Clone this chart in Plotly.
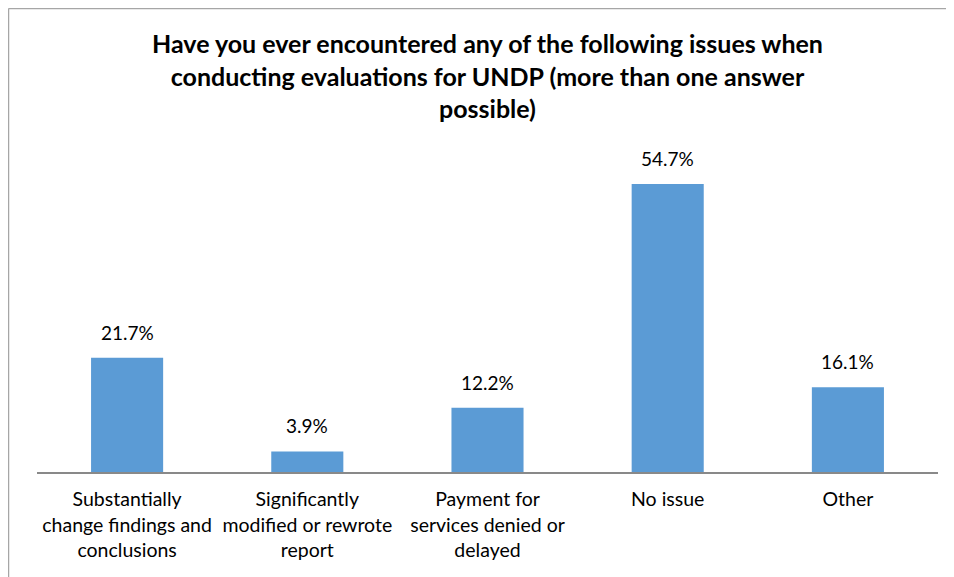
import plotly.graph_objects as go

categories = [
    "Substantially<br>change findings and<br>conclusions",
    "Significantly<br>modified or rewrote<br>report",
    "Payment for<br>services denied or<br>delayed",
    "No issue",
    "Other",
]
values = [21.7, 3.9, 12.2, 54.7, 16.1]
labels = ["21.7%", "3.9%", "12.2%", "54.7%", "16.1%"]

W, H = 954, 577
OFF = 8  # page body offset
ml, mr, mt, mb = 37 - OFF, 24, 156 - OFF, 113
pw, ph = W - ml - mr, H - mt - mb

FONT = "Lato, sans-serif"

fig = go.Figure(go.Bar(
    x=categories, y=values,
    marker=dict(color="#5B9BD5", line=dict(width=0)),
    width=0.4,
))

for c, v, t in zip(categories, values, labels):
    fig.add_annotation(x=c, y=v, text=t, showarrow=False, yanchor="bottom",
                       yshift=12, font=dict(family=FONT, size=19, color="#000000"))

fig.update_layout(
    width=W, height=H,
    margin=dict(l=ml, r=mr, t=mt, b=mb),
    paper_bgcolor="white", plot_bgcolor="white",
    showlegend=False,
    title=dict(
        text="<b>Have you ever encountered any of the following issues when<br>conducting evaluations for UNDP (more than one answer<br>possible)</b>",
        x=(ml + pw / 2) / W, xanchor="center", y=1 - 45 / H, yanchor="top",
        font=dict(family=FONT, size=25, color="#000000"),
    ),
    xaxis=dict(
        showline=True, linecolor="#898989", linewidth=1.5,
        ticks="", showgrid=False, ticklabelstandoff=9,
        tickfont=dict(family=FONT, size=19.5, color="#000000"),
    ),
    yaxis=dict(range=[0, ph / 5.265], visible=False, showgrid=False, fixedrange=True),
    shapes=[
        dict(type="line", xref="paper", yref="paper",
             x0=-(ml - 0.5) / pw, x1=-(ml - 0.5) / pw, y0=(ph + mt - 0.5) / ph, y1=-mb / ph - 0.1,
             line=dict(color="#A6A6A6", width=1.5)),
        dict(type="line", xref="paper", yref="paper",
             x0=-(ml - 0.5) / pw, x1=1 + (mr + 20) / pw, y0=(ph + mt - 0.5) / ph, y1=(ph + mt - 0.5) / ph,
             line=dict(color="#A6A6A6", width=1.5)),
    ],
)

fig.write_html("out.html")
